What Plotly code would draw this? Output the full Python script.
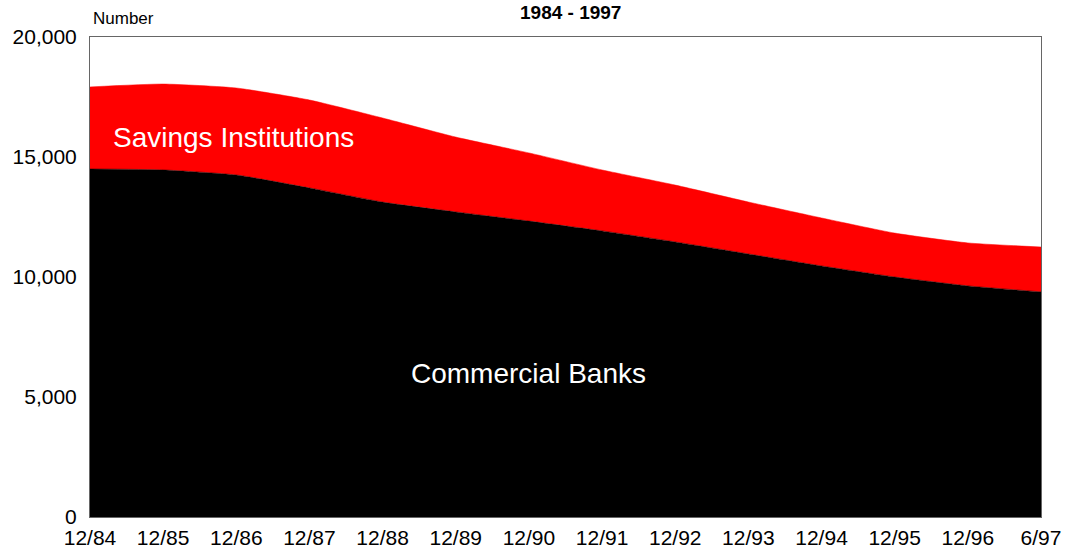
import plotly.graph_objects as go

periods = ["12/84", "12/85", "12/86", "12/87", "12/88", "12/89", "12/90",
           "12/91", "12/92", "12/93", "12/94", "12/95", "12/96", "6/97"]
commercial_banks = [14500, 14460, 14250, 13710, 13120, 12710, 12330,
                    11920, 11460, 10960, 10460, 10000, 9630, 9380]
savings_institutions = [3420, 3580, 3625, 3665, 3505, 3120, 2840,
                        2540, 2370, 2165, 2000, 1830, 1790, 1870]
y_ticks = [0, 5000, 10000, 15000, 20000]

xpos = list(range(len(periods)))
FONT = "Liberation Sans, Arial, sans-serif"

fig = go.Figure()
fig.add_trace(go.Scatter(
    x=xpos, y=commercial_banks, stackgroup="one", mode="lines",
    line=dict(color="black", width=0.5, shape="spline", smoothing=0.5),
    fillcolor="black", name="Commercial Banks"))
fig.add_trace(go.Scatter(
    x=xpos, y=savings_institutions, stackgroup="one", mode="lines",
    line=dict(color="red", width=0.5, shape="spline", smoothing=0.5),
    fillcolor="red", name="Savings Institutions"))

fig.update_layout(
    width=1073, height=558,
    margin=dict(l=90, r=32, t=37, b=41, autoexpand=False),
    paper_bgcolor="white", plot_bgcolor="white",
    showlegend=False,
    font=dict(family=FONT, color="black"),
)
fig.update_xaxes(
    range=[0, len(periods) - 1], tickvals=xpos, ticktext=periods,
    showgrid=False, zeroline=False, showline=True, mirror=True,
    linecolor="#666666", linewidth=1, ticks="", tickfont=dict(size=21),
    ticklabelstandoff=2,
)
fig.update_yaxes(
    range=[0, 20000], tickvals=y_ticks, tickformat=",d",
    showgrid=False, zeroline=False, showline=True, mirror=True,
    linecolor="#666666", linewidth=1, ticks="", tickfont=dict(size=21),
    ticklabelstandoff=8,
)

fig.add_annotation(text="<b>1984 - 1997</b>", xref="paper", yref="paper",
                   x=0.505, y=1.0, yshift=25, showarrow=False,
                   font=dict(size=19, family=FONT), xanchor="center", yanchor="middle")
fig.add_annotation(text="Number", xref="paper", yref="paper",
                   x=0.0, y=1.0, yshift=19, xshift=1, showarrow=False,
                   font=dict(size=17, family=FONT), xanchor="left", yanchor="middle")
fig.add_annotation(text="Savings Institutions", xref="paper", yref="paper",
                   x=(113 - 90) / 951, y=(517 - 137) / 480, xshift=-2, showarrow=False,
                   font=dict(size=28, family=FONT, color="white"),
                   xanchor="left", yanchor="middle")
fig.add_annotation(text="Commercial Banks", xref="paper", yref="paper",
                   x=(528 - 90) / 951, y=(517 - 373) / 480, showarrow=False,
                   font=dict(size=28, family=FONT, color="white"),
                   xanchor="center", yanchor="middle")

fig.write_html("out.html", config={"displayModeBar": False},
               post_script="document.body.style.margin='0';document.body.style.overflow='hidden';")
